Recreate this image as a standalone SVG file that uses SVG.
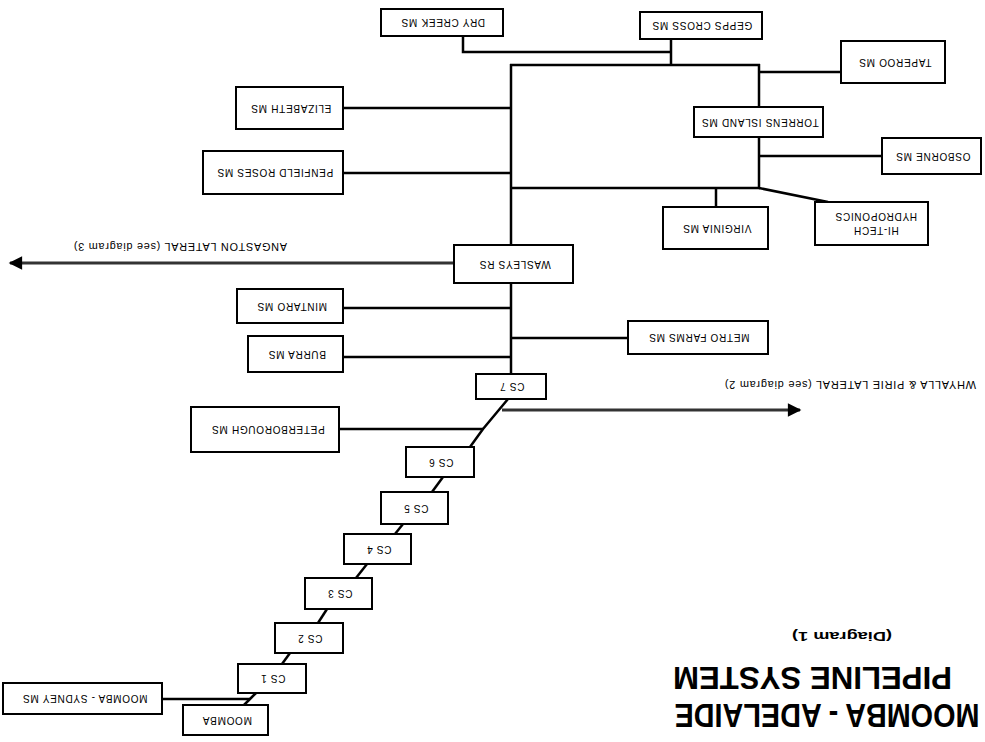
<svg xmlns="http://www.w3.org/2000/svg" width="985" height="742" viewBox="0 0 985 742">
<style>
.box{fill:#fff;stroke:#000;stroke-width:2}
.lbl{font-family:"Liberation Sans",Arial,sans-serif;font-size:10px;letter-spacing:0.7px;text-anchor:middle;fill:#000}
.ln{fill:none;stroke:#000;stroke-width:2.5}
.arr{fill:none;stroke:#333;stroke-width:3}
.ttl{font-family:"Liberation Sans",Arial,sans-serif;font-weight:bold;text-anchor:middle;fill:#000}
</style>
<defs>
<marker id="ah" viewBox="0 0 10 10" refX="9" refY="5" markerWidth="5.5" markerHeight="4.5" markerUnits="strokeWidth" orient="auto">
<path d="M0,0 L10,5 L0,10 Z" fill="#000"/>
</marker>
</defs>
<rect width="985" height="742" fill="#fff"/>
<g id="connectors">
<polyline class="ln" points="162,699 250,699"/>
<line class="ln" x1="244" y1="705" x2="256" y2="693"/>
<line class="ln" x1="282" y1="664" x2="290" y2="653"/>
<line class="ln" x1="318" y1="623" x2="327" y2="609"/>
<line class="ln" x1="356" y1="578" x2="367" y2="564"/>
<line class="ln" x1="395" y1="534" x2="403" y2="524"/>
<line class="ln" x1="432" y1="492" x2="443" y2="477"/>
<polyline class="ln" points="470,447 483,429 508,399"/>
<line class="ln" x1="339" y1="429" x2="483" y2="429"/>
<line class="arr" x1="502" y1="410" x2="800" y2="410" marker-end="url(#ah)"/>
<line class="ln" x1="511" y1="374" x2="511" y2="283"/>
<line class="ln" x1="511" y1="245" x2="511" y2="64"/>
<line class="ln" x1="510" y1="65" x2="760" y2="65"/>
<line class="ln" x1="510" y1="188" x2="760" y2="188"/>
<line class="ln" x1="759" y1="64" x2="759" y2="107"/>
<line class="ln" x1="759" y1="137" x2="759" y2="189"/>
<line class="ln" x1="671" y1="39" x2="671" y2="65"/>
<polyline class="ln" points="463,36 463,52 671,52"/>
<line class="ln" x1="759" y1="72" x2="841" y2="72"/>
<line class="ln" x1="759" y1="156" x2="882" y2="156"/>
<line class="ln" x1="716" y1="188" x2="716" y2="207"/>
<line class="ln" x1="759" y1="188" x2="828" y2="202"/>
<line class="ln" x1="343" y1="108" x2="511" y2="108"/>
<line class="ln" x1="343" y1="173" x2="511" y2="173"/>
<line class="arr" x1="454" y1="263" x2="10" y2="263" marker-end="url(#ah)"/>
<line class="ln" x1="343" y1="308" x2="511" y2="308"/>
<line class="ln" x1="343" y1="357" x2="511" y2="357"/>
<line class="ln" x1="511" y1="338" x2="628" y2="338"/>
</g>
<g id="n_moomba_sydney"><rect class="box" x="3" y="683" width="159" height="31"/><text class="lbl" x="85" y="702" transform="rotate(180 85 698.5)">MOOMBA - SYDNEY MS</text></g>
<g id="n_moomba"><rect class="box" x="183" y="705" width="85" height="30"/><text class="lbl" x="227" y="723.5" transform="rotate(180 227 720)">MOOMBA</text></g>
<g id="n_cs1"><rect class="box" x="238" y="664" width="68" height="29"/><text class="lbl" x="273" y="682" transform="rotate(180 273 678.5)">CS 1</text></g>
<g id="n_cs2"><rect class="box" x="275" y="623" width="68" height="30"/><text class="lbl" x="310" y="641.5" transform="rotate(180 310 638)">CS 2</text></g>
<g id="n_cs3"><rect class="box" x="305" y="578" width="67" height="31"/><text class="lbl" x="340" y="597" transform="rotate(180 340 593.5)">CS 3</text></g>
<g id="n_cs4"><rect class="box" x="344" y="534" width="67" height="30"/><text class="lbl" x="379" y="552.5" transform="rotate(180 379 549)">CS 4</text></g>
<g id="n_cs5"><rect class="box" x="381" y="492" width="67" height="32"/><text class="lbl" x="416" y="511.5" transform="rotate(180 416 508)">CS 5</text></g>
<g id="n_cs6"><rect class="box" x="406" y="447" width="68" height="30"/><text class="lbl" x="441" y="465.5" transform="rotate(180 441 462)">CS 6</text></g>
<g id="n_cs7"><rect class="box" x="476" y="374" width="70" height="25"/><text class="lbl" x="512" y="390" transform="rotate(180 512 386.5)">CS 7</text></g>
<g id="n_peterborough"><rect class="box" x="191" y="407" width="148" height="45"/><text class="lbl" x="268" y="433" transform="rotate(180 268 429.5)">PETERBOROUGH MS</text></g>
<g id="n_burra"><rect class="box" x="248" y="336" width="95" height="36"/><text class="lbl" x="297" y="357.5" transform="rotate(180 297 354)">BURRA MS</text></g>
<g id="n_metro"><rect class="box" x="628" y="321" width="140" height="33"/><text class="lbl" x="699" y="341" transform="rotate(180 699 337.5)">METRO FARMS MS</text></g>
<g id="n_mintaro"><rect class="box" x="237" y="289" width="106" height="34"/><text class="lbl" x="292" y="309.5" transform="rotate(180 292 306)">MINTARO MS</text></g>
<g id="n_wasleys"><rect class="box" x="454" y="245" width="119" height="38"/><text class="lbl" x="515" y="267.5" transform="rotate(180 515 264)">WASLEYS RS</text></g>
<g id="n_penfield"><rect class="box" x="203" y="151" width="140" height="43"/><text class="lbl" x="275" y="176" transform="rotate(180 275 172.5)">PENFIELD ROSES MS</text></g>
<g id="n_elizabeth"><rect class="box" x="236" y="87" width="107" height="42"/><text class="lbl" x="291" y="111.5" transform="rotate(180 291 108)">ELIZABETH MS</text></g>
<g id="n_drycreek"><rect class="box" x="381" y="9" width="122" height="27"/><text class="lbl" x="443" y="26" transform="rotate(180 443 22.5)">DRY CREEK MS</text></g>
<g id="n_gepps"><rect class="box" x="640" y="12" width="122" height="27"/><text class="lbl" x="702" y="29" transform="rotate(180 702 25.5)">GEPPS CROSS MS</text></g>
<g id="n_taperoo"><rect class="box" x="841" y="41" width="104" height="42"/><text class="lbl" x="895" y="65.5" transform="rotate(180 895 62)">TAPEROO MS</text></g>
<g id="n_torrens"><rect class="box" x="694" y="107" width="129" height="30"/><text class="lbl" x="760" y="125.5" transform="rotate(180 760 122)">TORRENS ISLAND MS</text></g>
<g id="n_osborne"><rect class="box" x="882" y="138" width="99" height="36"/><text class="lbl" x="933" y="159.5" transform="rotate(180 933 156)">OSBORNE MS</text></g>
<g id="n_virginia"><rect class="box" x="663" y="207" width="105" height="42"/><text class="lbl" x="717" y="231.5" transform="rotate(180 717 228)">VIRGINIA MS</text></g>
<g id="n_hitech"><rect class="box" x="815" y="202" width="113" height="43"/><text class="lbl" transform="rotate(180 876 223.5)"><tspan x="876" y="220">HI-TECH</tspan><tspan x="876" y="234">HYDROPONICS</tspan></text></g>
<g id="labels">
<text class="lbl" x="180" y="249.5" textLength="214" lengthAdjust="spacingAndGlyphs" transform="rotate(180 180 246)">ANGASTON LATERAL (see diagram 3)</text>
<text class="lbl" x="850" y="387.5" textLength="252" lengthAdjust="spacingAndGlyphs" transform="rotate(180 850 384)">WHYALLA &amp; PIRIE LATERAL (see diagram 2)</text>
</g>
<g id="title">
<text class="ttl" x="827" y="727.5" font-size="34" textLength="305" lengthAdjust="spacingAndGlyphs" transform="rotate(180 827 715.5)">MOOMBA - ADELAIDE</text>
<text class="ttl" x="812.5" y="690" font-size="32" textLength="279" lengthAdjust="spacingAndGlyphs" transform="rotate(180 812.5 678.5)">PIPELINE SYSTEM</text>
<text class="ttl" x="842" y="640.5" font-size="13" textLength="100" lengthAdjust="spacingAndGlyphs" transform="rotate(180 842 636)">(Diagram 1)</text>
</g>
</svg>
